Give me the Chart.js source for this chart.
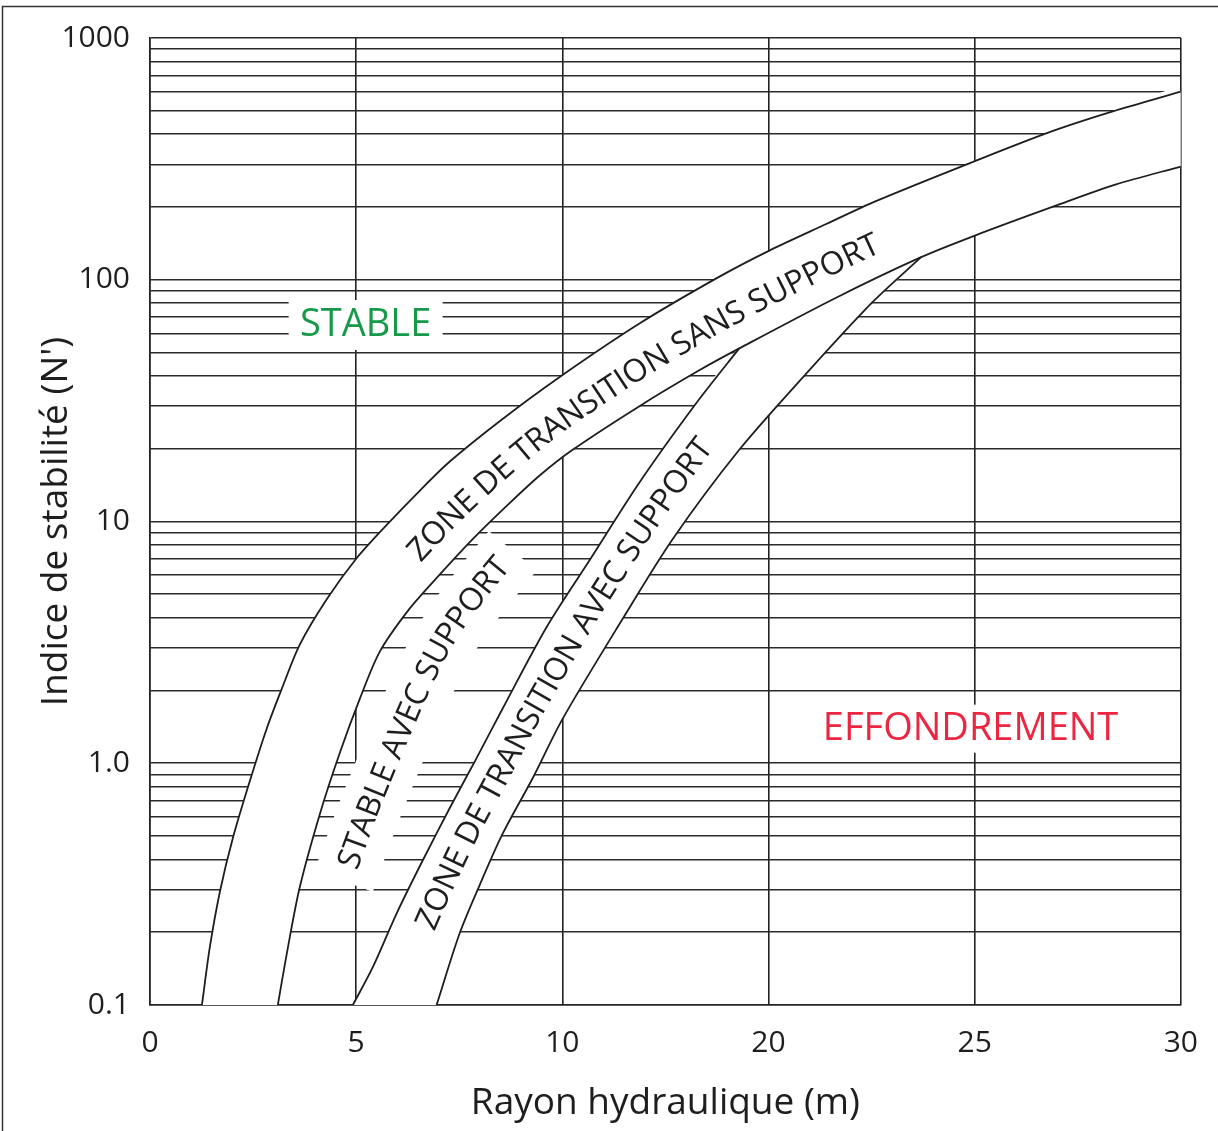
<!DOCTYPE html>
<html>
<head>
<meta charset="utf-8">
<script src="https://cdn.jsdelivr.net/npm/chart.js@4.4.1/dist/chart.umd.min.js"></script>
<style>
  html, body { margin: 0; padding: 0; background: #ffffff; }
  #wrap { width: 1218px; height: 1131px; position: relative; }
  canvas { display: block; }
</style>
</head>
<body>
<div id="wrap"><canvas id="c" width="1218" height="1131"></canvas></div>
<script>
// ---------- data (x in axis-position units: tick positions 0..25 labelled 0,5,10,20,25,30) ----------
const xTickValues = [0, 5, 10, 15, 20, 25];
const xTickLabels = ['0', '5', '10', '20', '25', '30'];
const yGridValues = [0.1, 0.2, 0.3, 0.4, 0.5, 0.6, 0.7, 0.8, 0.9,
                     1, 2, 3, 4, 5, 6, 7, 8, 9,
                     10, 20, 30, 40, 50, 60, 70, 80, 90,
                     100, 200, 300, 400, 500, 600, 700, 800, 900, 1000];
const yMajorValues = [0.1, 1, 10, 100, 1000];
const yMajorLabels = ['0.1', '1.0', '10', '100', '1000'];

// upper boundary of "zone de transition sans support"
const curveA = [[1.26,0.1],[1.45,0.173],[1.70,0.297],[2.01,0.491],[2.42,0.843],[2.83,1.39],[3.20,2.04],
  [3.63,3.09],[4.29,4.78],[5.01,7.05],[5.77,9.8],[6.54,13.4],[7.27,17.7],[8.48,26.0],[9.86,38.8],
  [11.87,65.9],[13.81,103],[15.02,132],[16.40,170],[17.59,211],[19.99,309],[21.85,410],[23.33,496],[25,600]];
// lower boundary of "zone de transition sans support"
const curveB = [[3.10,0.1],[3.32,0.164],[3.63,0.306],[4.12,0.617],[4.60,1.10],[5.09,1.85],[5.57,2.89],
  [6.23,4.22],[6.86,5.61],[7.82,8.43],[8.65,11.6],[9.45,15.5],[10.25,19.8],[11.87,30.0],[13.32,42.2],
  [14.29,52.0],[16.64,84.3],[18.70,124],[19.99,152],[21.95,202],[23.43,248],[25,294]];
// left boundary of "zone de transition avec support"
const curveC = [[4.92,0.1],[5.40,0.143],[5.98,0.239],[6.61,0.395],[7.27,0.653],[7.92,1.05],[8.55,1.68],
  [9.62,3.66],[10.66,6.91],[11.87,14.5],[13.25,30.9],[14.29,52.0]];
// right boundary of "zone de transition avec support"
const curveD = [[6.95,0.1],[7.51,0.198],[7.99,0.312],[8.55,0.510],[9.28,0.867],[10.01,1.53],[11.46,3.95],
  [12.67,8.43],[14.29,19.8],[15.92,41.0],[17.51,80.4],[18.70,124]];

const zoneLabels = {
  sans: 'ZONE DE TRANSITION SANS SUPPORT',
  avec: 'ZONE DE TRANSITION AVEC SUPPORT',
  stableAvec: 'STABLE AVEC SUPPORT',
  stable: 'STABLE',
  collapse: 'EFFONDREMENT'
};

// ---------- build band polygons from the curves ----------
const toPts = arr => arr.map(([x, y]) => ({x, y}));
const band1 = toPts(curveA.concat(curveB.slice().reverse()));
const cEnd = curveC[curveC.length - 1][0];
const dEnd = curveD[curveD.length - 1][0];
const band2 = toPts(curveC
  .concat(curveB.filter(p => p[0] > cEnd && p[0] < dEnd))
  .concat(curveD.slice().reverse()));

const FONT = '"Open Sans", "Noto Sans", sans-serif';
const INK = '#1e1e1e';
const TENSION = 0.3;

// ---------- helpers for text along curves ----------
function px(chart, curve) {
  const xs = chart.scales.x, ys = chart.scales.y;
  return curve.map(([u, v]) => [xs.getPixelForValue(u), ys.getPixelForValue(v)]);
}
function yAtX(poly, x) {
  for (let i = 0; i < poly.length - 1; i++) {
    const [x0, y0] = poly[i], [x1, y1] = poly[i + 1];
    if (x >= x0 && x <= x1) return y0 + (y1 - y0) * (x - x0) / (x1 - x0);
  }
  return x < poly[0][0] ? poly[0][1] : poly[poly.length - 1][1];
}
function xAtY(poly, y) {
  for (let i = 0; i < poly.length - 1; i++) {
    const [x0, y0] = poly[i], [x1, y1] = poly[i + 1];
    if (y <= y0 && y >= y1) return x0 + (x1 - x0) * (y0 - y) / (y0 - y1);
  }
  return y > poly[0][1] ? poly[0][0] : poly[poly.length - 1][0];
}
function smooth(path, n) {
  return path.map((p, i) => {
    let sx = 0, sy = 0, c = 0;
    for (let k = Math.max(0, i - n); k <= Math.min(path.length - 1, i + n); k++) { sx += path[k][0]; sy += path[k][1]; c++; }
    return [sx / c, sy / c];
  });
}
function midPathX(P, Q, t, x0, x1) {
  const out = [];
  for (let x = x0; x <= x1; x += 2) {
    const a = yAtX(P, x), b = yAtX(Q, x);
    out.push([x, a + t * (b - a)]);
  }
  return smooth(out, 6);
}
function midPathY(P, Q, t, y0, y1) {
  const out = [];
  for (let y = y0; y >= y1; y -= 2) {
    const a = xAtY(P, y), b = xAtY(Q, y);
    out.push([a + t * (b - a), y]);
  }
  return smooth(out, 6);
}
function cumul(path) {
  const d = [0];
  for (let i = 1; i < path.length; i++) {
    d.push(d[i - 1] + Math.hypot(path[i][0] - path[i - 1][0], path[i][1] - path[i - 1][1]));
  }
  return d;
}
function pointAt(path, dist, d) {
  let i = 1;
  while (i < path.length - 1 && d[i] < dist) i++;
  const [x0, y0] = path[i - 1], [x1, y1] = path[i];
  const seg = d[i] - d[i - 1] || 1;
  const f = (dist - d[i - 1]) / seg;
  return {x: x0 + (x1 - x0) * f, y: y0 + (y1 - y0) * f, a: Math.atan2(y1 - y0, x1 - x0)};
}
function textAlong(ctx, path, text, font, color) {
  const d = cumul(path);
  ctx.save();
  ctx.font = font;
  ctx.fillStyle = color;
  ctx.textAlign = 'center';
  ctx.textBaseline = 'middle';
  for (let i = 0; i < text.length; i++) {
    const ch = text[i];
    if (ch === ' ') continue;
    const pre = ctx.measureText(text.slice(0, i)).width;
    const w = ctx.measureText(ch).width;
    const p = pointAt(path, pre + w / 2, d);
    ctx.save();
    ctx.translate(p.x, p.y);
    ctx.rotate(p.a);
    ctx.fillText(ch, 0, 0);
    ctx.restore();
  }
  ctx.restore();
}
function haloAlong(ctx, path, text, font, width, extra) {
  const d = cumul(path);
  ctx.save();
  ctx.font = font;
  const len = ctx.measureText(text).width;
  ctx.beginPath();
  let first = true;
  for (let s = -extra; s <= len + extra; s += 2) {
    const p = pointAt(path, Math.max(0, s), d);
    let x = p.x, y = p.y;
    if (s < 0) { x += Math.cos(p.a) * s; y += Math.sin(p.a) * s; }
    if (first) { ctx.moveTo(x, y); first = false; } else ctx.lineTo(x, y);
  }
  ctx.strokeStyle = '#ffffff';
  ctx.lineWidth = width;
  ctx.lineCap = 'butt';
  ctx.lineJoin = 'round';
  ctx.stroke();
  ctx.restore();
}

const labelStable = {x: 5.23, y: 65};
const labelCollapse = {x: 19.9, y: 1.39};

const annotations = {
  id: 'annotations',
  beforeDatasetsDraw(chart) {
    const ctx = chart.ctx, xs = chart.scales.x, ys = chart.scales.y;
    ctx.save();
    ctx.fillStyle = '#ffffff';
    let cx = xs.getPixelForValue(labelStable.x), cy = ys.getPixelForValue(labelStable.y);
    ctx.fillRect(cx - 77, cy - 25, 154, 50);
    cx = xs.getPixelForValue(labelCollapse.x); cy = ys.getPixelForValue(labelCollapse.y);
    ctx.fillRect(cx - 156, cy - 24, 312, 48);
    ctx.restore();
    const B = px(chart, curveB), C = px(chart, curveC);
    const p3 = midPathY(B, C, 0.38, 874, 480);
    haloAlong(ctx, p3, zoneLabels.stableAvec, '32px ' + FONT, 62, 14);
  },
  afterDatasetsDraw(chart) {
    const ctx = chart.ctx, xs = chart.scales.x, ys = chart.scales.y;
    const A = px(chart, curveA), B = px(chart, curveB), C = px(chart, curveC), D = px(chart, curveD);
    const f = '32px ' + FONT;
    textAlong(ctx, midPathX(A, B, 0.56, 408, 1120), zoneLabels.sans, f, INK);
    textAlong(ctx, midPathY(C, D, 0.5, 934, 360), zoneLabels.avec, f, INK);
    textAlong(ctx, midPathY(B, C, 0.38, 874, 480), zoneLabels.stableAvec, f, INK);

    ctx.save();
    ctx.font = '38px ' + FONT;
    ctx.textAlign = 'center';
    ctx.textBaseline = 'middle';
    ctx.fillStyle = '#17994a';
    ctx.fillText(zoneLabels.stable, xs.getPixelForValue(labelStable.x), ys.getPixelForValue(labelStable.y));
    ctx.fillStyle = '#ec2540';
    ctx.fillText(zoneLabels.collapse, xs.getPixelForValue(labelCollapse.x), ys.getPixelForValue(labelCollapse.y));
    ctx.restore();
  },
  afterDraw(chart) {
    const ctx = chart.ctx;
    ctx.save();
    ctx.strokeStyle = '#333';
    ctx.lineWidth = 1.5;
    ctx.beginPath();
    ctx.moveTo(2.5, 1131);
    ctx.lineTo(2.5, 6.5);
    ctx.lineTo(1218, 6.5);
    ctx.stroke();
    ctx.restore();
  }
};

const strokeStyle = {
  type: 'line', borderColor: INK, borderWidth: 1.8, backgroundColor: 'transparent',
  pointRadius: 0, pointHoverRadius: 0, tension: TENSION, fill: false
};
const fillStyle = {
  type: 'line', borderColor: 'rgba(0,0,0,0)', borderWidth: 0, backgroundColor: '#ffffff',
  pointRadius: 0, pointHoverRadius: 0, tension: TENSION, fill: 'shape'
};

new Chart(document.getElementById('c'), {
  type: 'line',
  data: {
    datasets: [
      Object.assign({label: 'curve A', data: toPts(curveA)}, strokeStyle),
      Object.assign({label: 'curve B', data: toPts(curveB)}, strokeStyle),
      Object.assign({label: 'curve C', data: toPts(curveC)}, strokeStyle),
      Object.assign({label: 'curve D', data: toPts(curveD)}, strokeStyle),
      Object.assign({label: zoneLabels.sans, data: band1}, fillStyle),
      Object.assign({label: zoneLabels.avec, data: band2}, fillStyle)
    ]
  },
  options: {
    responsive: false,
    animation: false,
    devicePixelRatio: 1,
    layout: {padding: {left: 0, right: 36, top: 33, bottom: 0}},
    plugins: {legend: {display: false}, tooltip: {enabled: false}},
    scales: {
      x: {
        type: 'linear',
        min: 0, max: 25,
        afterFit(s) { s.height = 126; },
        afterBuildTicks(s) { s.ticks = xTickValues.map(v => ({value: v})); },
        grid: {color: '#222', lineWidth: 1.6, drawTicks: false},
        border: {color: '#222', width: 1.6},
        ticks: {
          autoSkip: false, maxRotation: 0, padding: 20, color: INK,
          font: {family: FONT, size: 30},
          callback: v => { const i = xTickValues.indexOf(v); return i >= 0 ? xTickLabels[i] : ''; }
        },
        title: {display: true, text: 'Rayon hydraulique (m)', color: INK,
          font: {family: FONT, size: 37}, padding: {top: 0, bottom: 5}}
      },
      y: {
        type: 'logarithmic',
        min: 0.1, max: 1000,
        afterFit(s) { s.width = 150; },
        afterBuildTicks(s) { s.ticks = yGridValues.map(v => ({value: v})); },
        grid: {color: '#2a2a2a', lineWidth: 1.6, drawTicks: false},
        border: {color: '#222', width: 1.6},
        ticks: {
          autoSkip: false, padding: 20, color: INK,
          font: {family: FONT, size: 30},
          callback: v => { const i = yMajorValues.findIndex(m => Math.abs(m - v) < 1e-9); return i >= 0 ? yMajorLabels[i] : ''; }
        },
        title: {display: true, text: "Indice de stabilité (N')", color: INK,
          font: {family: FONT, size: 37}, padding: {top: 34, bottom: 0}}
      }
    }
  },
  plugins: [annotations]
});
</script>
</body>
</html>
